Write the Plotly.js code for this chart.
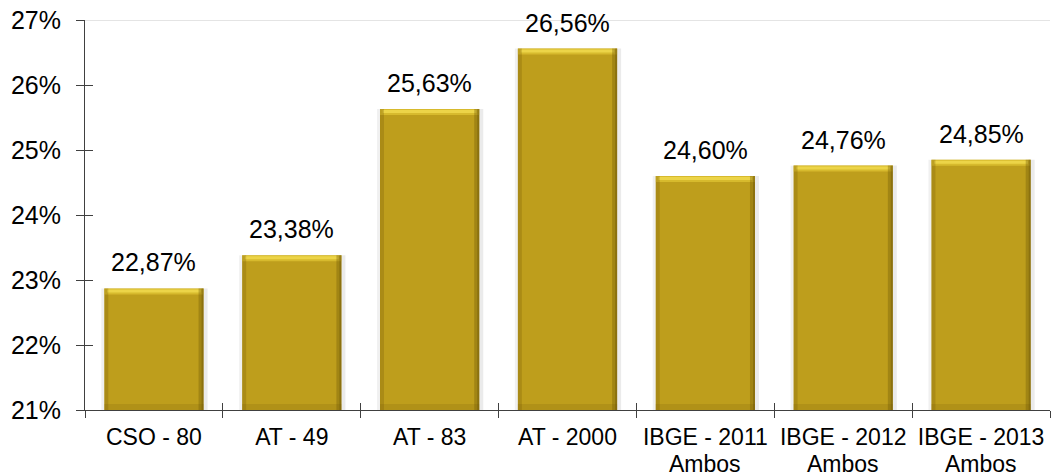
<!DOCTYPE html>
<html><head><meta charset="utf-8">
<script src="https://cdn.plot.ly/plotly-3.0.1.min.js"></script>
<style>html,body{margin:0;padding:0;background:#fff}#c{width:1051px;height:476px}</style>
</head><body><div id="c"></div>
<script>
const categories = ["CSO - 80","AT - 49","AT - 83","AT - 2000","IBGE - 2011 Ambos","IBGE - 2012 Ambos","IBGE - 2013 Ambos"];
const tickLine1 = ["CSO - 80","AT - 49","AT - 83","AT - 2000","IBGE - 2011","IBGE - 2012","IBGE - 2013"];
const tickLine2 = ["","","","","Ambos","Ambos","Ambos"];
const values = [22.87, 23.38, 25.63, 26.56, 24.60, 24.76, 24.85];
const yMin = 21, yMax = 27;

const FONT = "Liberation Sans, Arial, sans-serif";
const BW = 0.72;
const base = "#BE9E1C";

const trace = {
  type: "bar", x: categories, y: values.map(v => v - yMin), base: yMin,
  width: BW,
  marker: {color: base, line: {width: 0}},
  hoverinfo: "skip"
};
// invisible helper so the crossing-tick overlay axes are drawn
const helper = {type:"scatter", x:[-0.5], y:[yMin], xaxis:"x2", yaxis:"y2", mode:"markers",
  marker:{opacity:0}, hoverinfo:"skip"};

const shapes = [];
const annotations = [];
values.forEach((v, i) => {
  const c = categories[i];
  // soft outer shadow
  shapes.push({type:"rect", xref:"x", yref:"y", xsizemode:"pixel", xanchor:i-BW/2, x0:-3, x1:0, y0:yMin, y1:v,
    fillcolor:"rgba(0,0,0,0.06)", line:{width:0}, layer:"below"});
  shapes.push({type:"rect", xref:"x", yref:"y", xsizemode:"pixel", xanchor:i+BW/2, x0:0, x1:4, y0:yMin, y1:v,
    fillcolor:"rgba(0,0,0,0.08)", line:{width:0}, layer:"below"});
  // bevel: top highlight
  shapes.push({type:"rect", xref:"x", yref:"y", x0:i-BW/2, x1:i+BW/2, ysizemode:"pixel", yanchor:v, y0:0, y1:-6,
    fillcolor:"rgba(235,210,60,0.55)", line:{width:0}, layer:"above"});
  shapes.push({type:"rect", xref:"x", yref:"y", x0:i-BW/2+0.02, x1:i+BW/2-0.02, ysizemode:"pixel", yanchor:v, y0:-1, y1:-4,
    fillcolor:"rgba(250,230,90,0.6)", line:{width:0}, layer:"above"});
  // bottom dark
  shapes.push({type:"rect", xref:"x", yref:"y", x0:i-BW/2, x1:i+BW/2, ysizemode:"pixel", yanchor:yMin, y0:0, y1:6,
    fillcolor:"rgba(120,95,10,0.2)", line:{width:0}, layer:"above"});
  // sides dark
  shapes.push({type:"rect", xref:"x", yref:"y", xsizemode:"pixel", xanchor:i-BW/2, x0:0, x1:4, y0:yMin, y1:v,
    fillcolor:"rgba(110,85,5,0.25)", line:{width:0}, layer:"above"});
  shapes.push({type:"rect", xref:"x", yref:"y", xsizemode:"pixel", xanchor:i+BW/2, x0:-5, x1:0, y0:yMin, y1:v,
    fillcolor:"rgba(110,85,5,0.35)", line:{width:0}, layer:"above"});
  shapes.push({type:"rect", xref:"x", yref:"y", xsizemode:"pixel", xanchor:i+BW/2, x0:-2, x1:0, y0:yMin, y1:v,
    fillcolor:"rgba(90,70,5,0.3)", line:{width:0}, layer:"above"});
  annotations.push({x:c, y:v, xref:"x", yref:"y", yanchor:"bottom", yshift:10, showarrow:false,
    text: v.toFixed(2).replace(".", ",") + "%", font:{family:FONT, size:25, color:"#000"}});
  if (tickLine2[i]) annotations.push({x:c, y:0, xref:"x", yref:"paper", yanchor:"top", yshift:-39, showarrow:false,
    text: tickLine2[i], font:{family:FONT, size:23, color:"#000"}});
});
// top light gridline
shapes.push({type:"line", xref:"paper", yref:"y", x0:0, x1:1, y0:yMax, y1:yMax, line:{color:"#e4e4e4", width:2}, layer:"below"});

const layout = {
  width: 1051, height: 476,
  margin: {l:85, r:1, t:20, b:66},
  paper_bgcolor: "#fff", plot_bgcolor: "#fff",
  showlegend: false,
  font: {family: FONT, size: 23, color: "#000"},
  xaxis: {type:"category", categoryarray: categories, tickvals: categories, ticktext: tickLine1,
    tickson:"boundaries", ticks:"outside", ticklen:7, tickcolor:"#404040", tickwidth:1,
    showline:true, linecolor:"#404040", linewidth:1, showgrid:false, zeroline:false,
    tickfont:{family:FONT, size:23}, ticklabelstandoff:6, range:[-0.5, 6.5], fixedrange:true},
  xaxis2: {overlaying:"x", range:[-0.5, 6.5], tick0:-0.5, dtick:1, ticks:"inside", ticklen:7,
    tickcolor:"#404040", showticklabels:false, showline:false, showgrid:false, zeroline:false, anchor:"y"},
  yaxis: {range:[yMin, yMax], dtick:1, tick0:21, ticksuffix:"%", ticks:"outside", ticklen:8,
    tickcolor:"#404040", showline:true, linecolor:"#404040", linewidth:1, showgrid:false, zeroline:false,
    tickfont:{family:FONT, size:25}, ticklabelstandoff:10, fixedrange:true},
  yaxis2: {overlaying:"y", range:[yMin, yMax], dtick:1, tick0:21, ticks:"inside", ticklen:8,
    tickcolor:"#404040", showticklabels:false, showline:false, showgrid:false, zeroline:false, anchor:"x"},
  shapes, annotations
};
Plotly.newPlot("c", [trace, helper], layout, {displayModeBar:false, staticPlot:true});
</script></body></html>
